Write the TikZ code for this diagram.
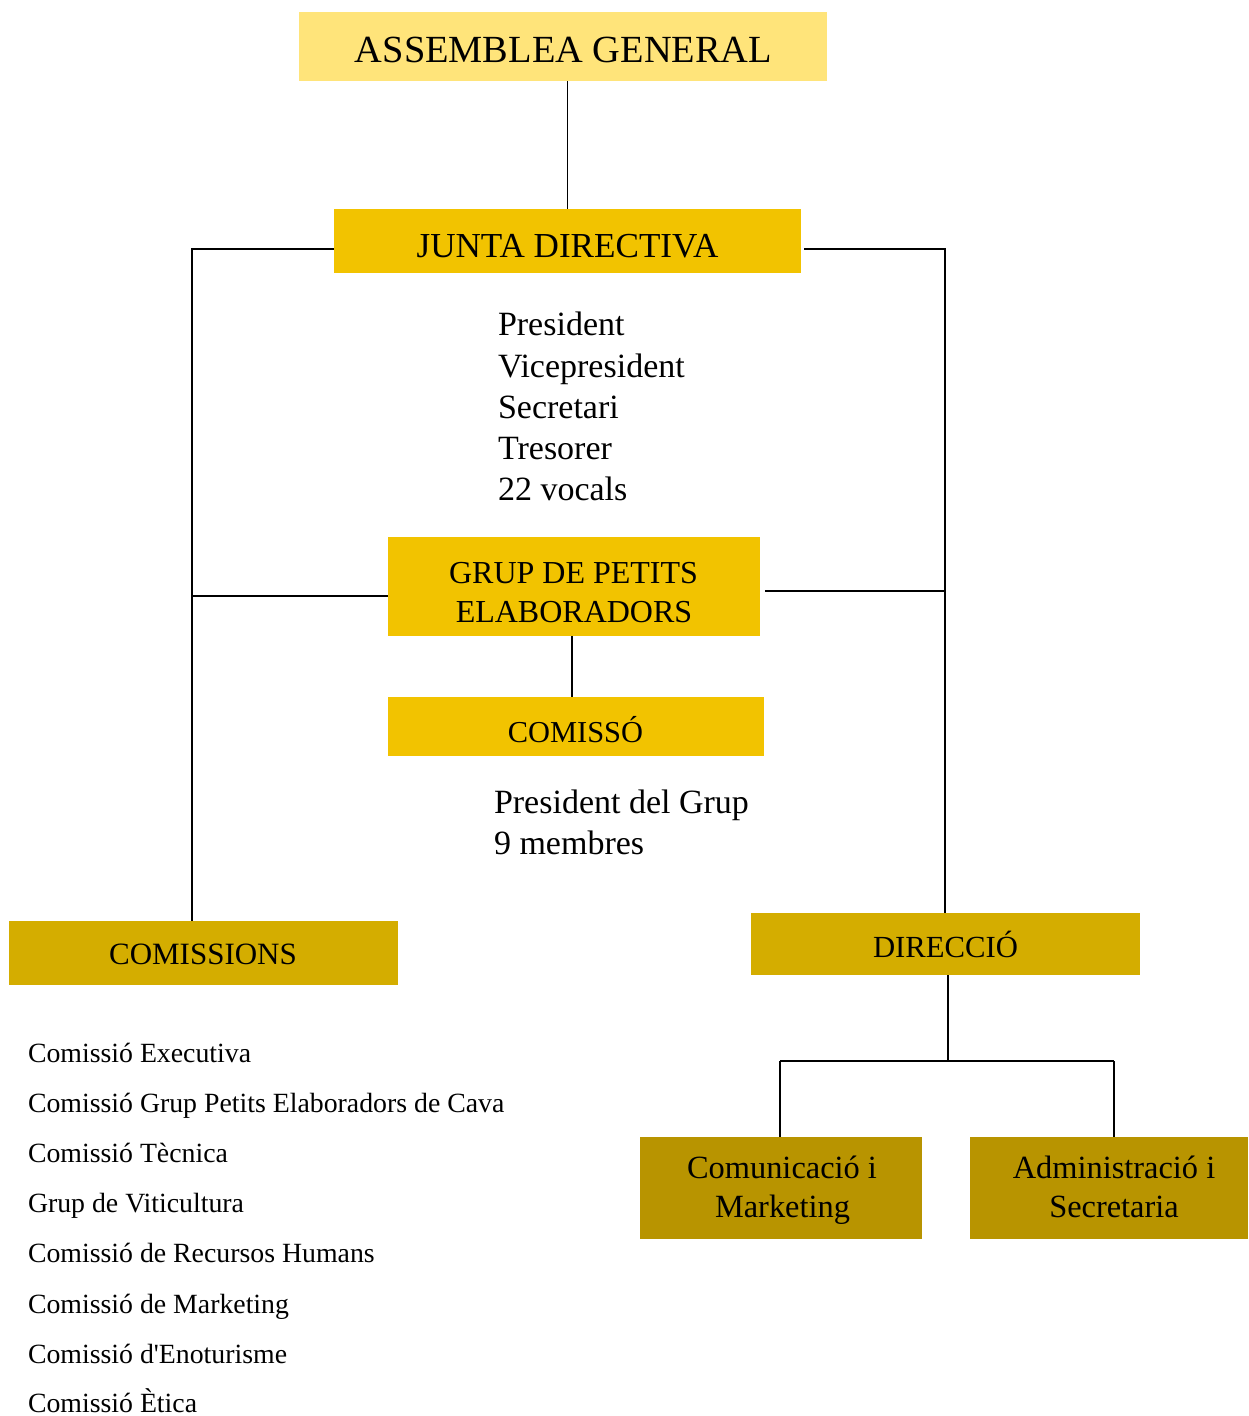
\documentclass[tikz,border=0pt]{standalone}
\usepackage{fontspec}
\setmainfont{Liberation Serif}[Ligatures=TeXOff]
\newcommand\myfs[1]{\fontsize{#1bp}{#1bp}\selectfont}
\definecolor{ylight}{HTML}{FFE47A}
\definecolor{ygold}{HTML}{F2C300}
\definecolor{ydark}{HTML}{D4AD00}
\definecolor{ydarker}{HTML}{B89400}
\tikzset{
  box/.style={draw=none, inner sep=0pt, outer sep=0pt, anchor=north west},
  lbl/.style={inner sep=0pt, outer sep=0pt, anchor=base, text=black},
  txt/.style={inner sep=0pt, outer sep=0pt, anchor=base west, text=black},
  conn/.style={draw=black, line width=1.8bp}
}
\begin{document}
\begin{tikzpicture}[x=1bp, y=-1bp]
\useasboundingbox (0,0) rectangle (1248,1416);
% boxes
\node[box, fill=ylight, minimum width=528bp, minimum height=69bp] (ag) at (299,12) {};
\node[box, fill=ygold, minimum width=467bp, minimum height=64bp] (jd) at (334,209) {};
\node[box, fill=ygold, minimum width=372bp, minimum height=99bp] (gp) at (388,537) {};
\node[box, fill=ygold, minimum width=376bp, minimum height=59bp] (cs) at (388,697) {};
\node[box, fill=ydark, minimum width=389bp, minimum height=64bp] (cm) at (9,921) {};
\node[box, fill=ydark, minimum width=389bp, minimum height=62bp] (dr) at (751,913) {};
\node[box, fill=ydarker, minimum width=282bp, minimum height=102bp] (cmk) at (640,1137) {};
\node[box, fill=ydarker, minimum width=278bp, minimum height=102bp] (adm) at (970,1137) {};
% box labels
\node[lbl, font=\myfs{38.4}] (agt) at (563.5,63) {ASSEMBLEA GENERAL};
\node[lbl, font=\myfs{35.1}] (jdt) at (567.5,258) {JUNTA DIRECTIVA};
\node[lbl, font=\myfs{32}] (gpt1) at (573.5,583) {GRUP DE PETITS};
\node[lbl, font=\myfs{32}] (gpt2) at (574,622) {ELABORADORS};
\node[lbl, font=\myfs{30.4}] (cst) at (575.5,742) {COMISSÓ};
\node[lbl, font=\myfs{31}] (cmt) at (203,964) {COMISSIONS};
\node[lbl, font=\myfs{30.7}] (drt) at (945.5,957) {DIRECCIÓ};
\node[lbl, font=\myfs{32.4}] (cmkt1) at (782,1178) {Comunicació i};
\node[lbl, font=\myfs{32.4}] (cmkt2) at (782.5,1217) {Marketing};
\node[lbl, font=\myfs{32.4}] (admt1) at (1114,1178) {Administració i};
\node[lbl, font=\myfs{32.4}] (admt2) at (1114,1217) {Secretaria};
% junta members
\node[txt, font=\myfs{34}] (m1) at (498,335) {President};
\node[txt, font=\myfs{34}] (m2) at (498,377) {Vicepresident};
\node[txt, font=\myfs{34}] (m3) at (498,418) {Secretari};
\node[txt, font=\myfs{34}] (m4) at (498,459) {Tresorer};
\node[txt, font=\myfs{34}] (m5) at (498,500) {22 vocals};
% comissó members
\node[txt, font=\myfs{34}] (c1) at (494,813) {President del Grup};
\node[txt, font=\myfs{34}] (c2) at (494,854) {9 membres};
% comissions list
\node[txt, font=\myfs{27.8}] (l1) at (28,1062) {Comissió Executiva};
\node[txt, font=\myfs{27.8}] (l2) at (28,1112.2) {Comissió Grup Petits Elaboradors de Cava};
\node[txt, font=\myfs{27.8}] (l3) at (28,1162.4) {Comissió Tècnica};
\node[txt, font=\myfs{27.8}] (l4) at (28,1212.6) {Grup de Viticultura};
\node[txt, font=\myfs{27.8}] (l5) at (28,1262.8) {Comissió de Recursos Humans};
\node[txt, font=\myfs{27.8}] (l6) at (28,1313) {Comissió de Marketing};
\node[txt, font=\myfs{27.8}] (l7) at (28,1363.2) {Comissió d'Enoturisme};
\node[txt, font=\myfs{27.8}] (l8) at (28,1412.5) {Comissió Ètica};
% connectors
\coordinate (lt) at (192,249);
\coordinate (gl) at (192,596);
\coordinate (rt) at (945,249);
\coordinate (gr) at (945,591);
\coordinate (db) at (948,1061);
\coordinate (hl) at (780,1061);
\coordinate (hr) at (1114,1061);
\draw[conn] (jd.north) -- (jd.north |- ag.south);
\draw[conn] (jd.west |- lt) -- (lt) -- (lt |- cm.north);
\draw[conn] (gl) -- (gl -| gp.west);
\draw[conn] ([xshift=3bp]jd.east |- rt) -- (rt) -- (rt |- dr.north);
\draw[conn] (gr) -- ([xshift=5bp]gp.east |- gr);
\draw[conn] ([xshift=-2bp]gp.south) -- ([xshift=-2bp]gp.south |- cs.north);
\draw[conn] (db) -- (db |- dr.south);
\draw[conn] (hl) -- (hr);
\draw[conn] (hl) -- (hl |- cmk.north);
\draw[conn] (hr) -- (hr |- adm.north);
\end{tikzpicture}
\end{document}
